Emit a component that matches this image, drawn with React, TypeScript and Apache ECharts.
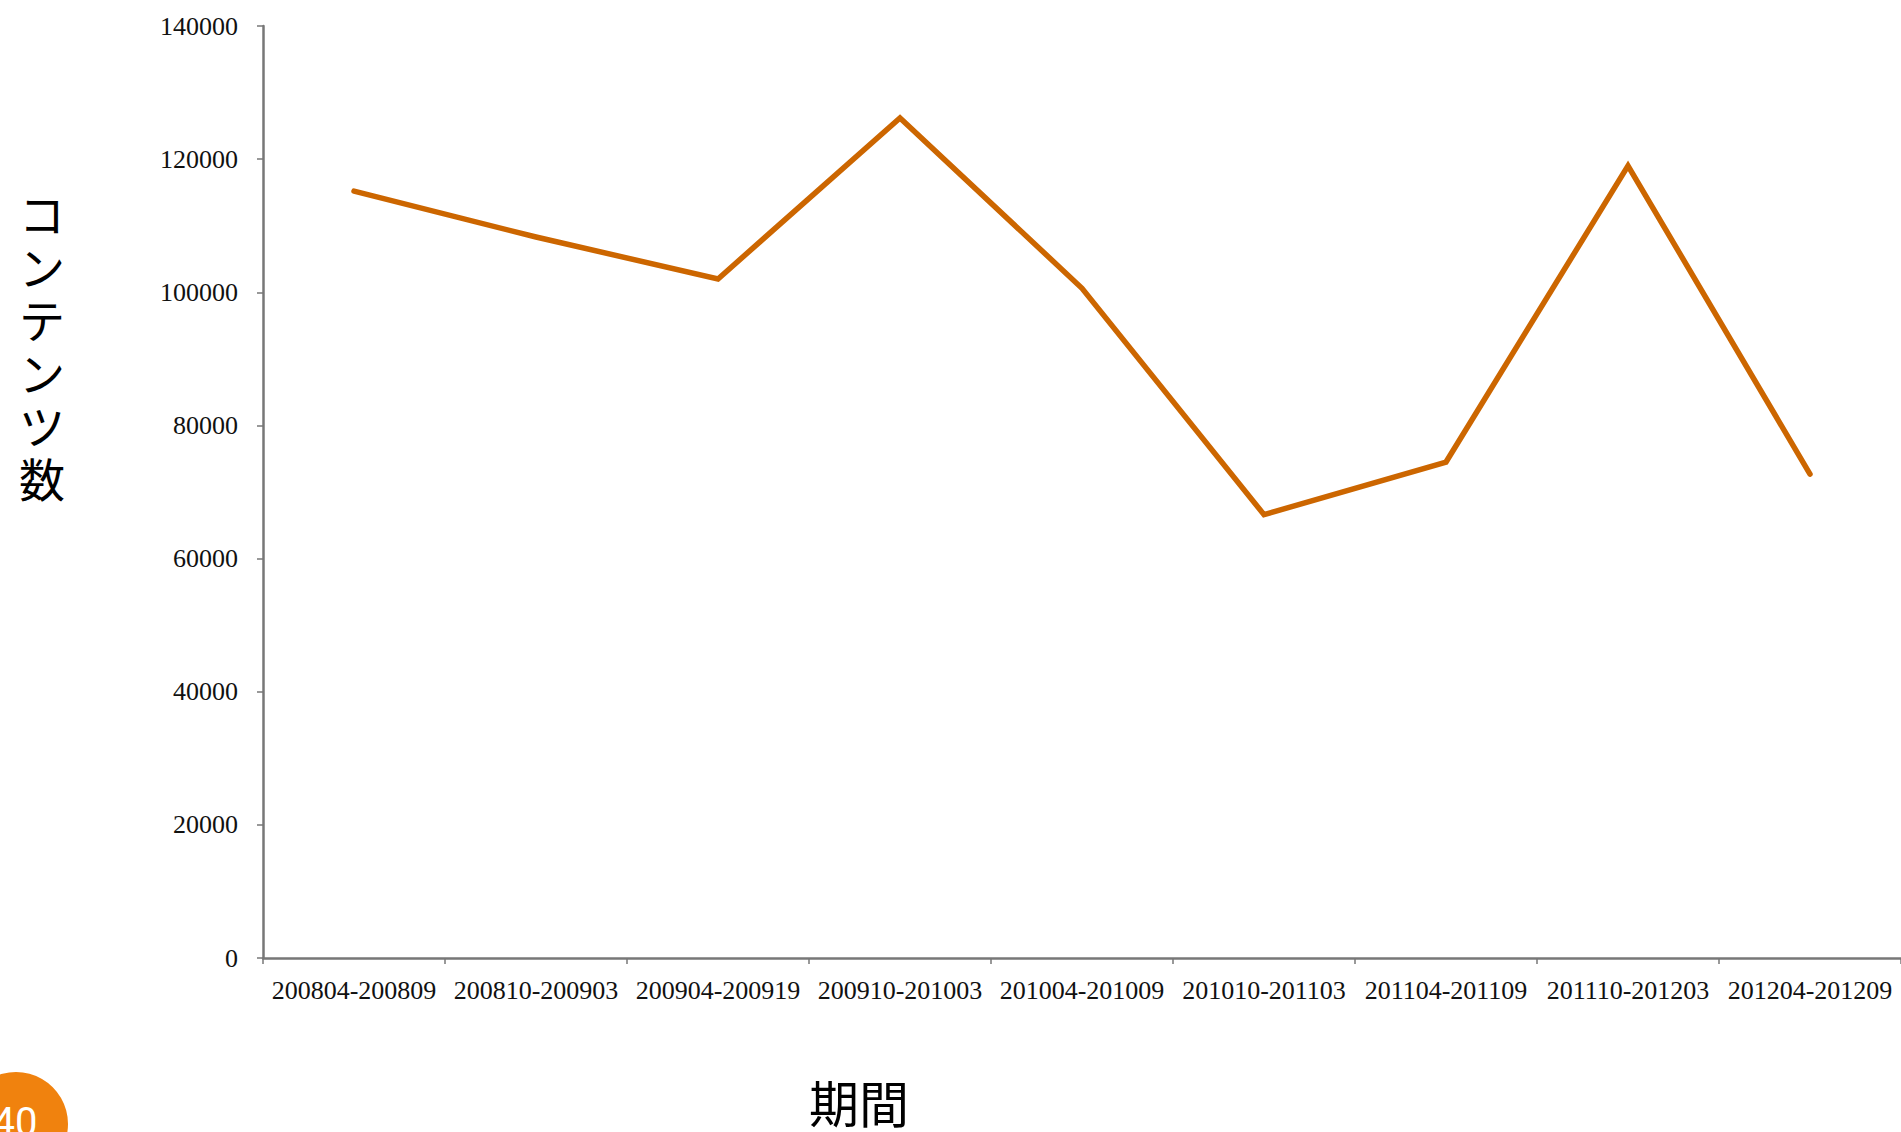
import React, { useEffect, useRef } from "react";
import * as echarts from "echarts";

const categories = [
  "200804-200809",
  "200810-200903",
  "200904-200919",
  "200910-201003",
  "201004-201009",
  "201010-201103",
  "201104-201109",
  "201110-201203",
  "201204-201209",
];
const contentCounts = [115200, 108300, 102000, 126200, 100600, 66600, 74500, 119000, 72700];
const yTicks = { min: 0, max: 140000, interval: 20000 };
const yAxisName = "コンテンツ数";
const xAxisName = "期間";
const pageNumber = "40";

export default function App() {
  const ref = useRef<HTMLDivElement>(null);
  useEffect(() => {
    if (!ref.current) return;
    const chart = echarts.init(ref.current, null, { renderer: "svg" });
    const axisGrey = "#777777";
    const yNameChars = yAxisName.split("").map((ch, i) => ({
      type: "text",
      x: 42,
      y: 189 + i * 53,
      style: {
        text: ch,
        fontFamily: "Noto Sans CJK JP",
        fontSize: 46,
        fill: "#000000",
        align: "center",
        verticalAlign: "top",
      },
    }));
    chart.setOption({
      animation: false,
      backgroundColor: "#ffffff",
      grid: { left: 263, right: -3, top: 26, bottom: 174, containLabel: false },
      xAxis: {
        type: "category",
        data: categories,
        boundaryGap: true,
        axisLine: { show: true, lineStyle: { color: axisGrey, width: 2.5 } },
        axisTick: { show: true, alignWithLabel: false, length: 6, lineStyle: { color: axisGrey, width: 1.5 } },
        axisLabel: {
          interval: 0,
          fontFamily: "Liberation Serif",
          fontSize: 26,
          color: "#111111",
          margin: 19,
        },
        splitLine: { show: false },
      },
      yAxis: {
        type: "value",
        min: yTicks.min,
        max: yTicks.max,
        interval: yTicks.interval,
        axisLine: { show: true, lineStyle: { color: axisGrey, width: 2.5 } },
        axisTick: { show: true, length: 6, lineStyle: { color: axisGrey, width: 1.5 } },
        axisLabel: {
          fontFamily: "Liberation Serif",
          fontSize: 26,
          color: "#111111",
          margin: 25,
          formatter: (v: number) => String(v),
        },
        splitLine: { show: false },
      },
      series: [
        {
          type: "line",
          data: contentCounts,
          showSymbol: false,
          symbol: "none",
          lineStyle: { color: "#CC6600", width: 5.5, cap: "round", join: "miter" },
          itemStyle: { color: "#CC6600" },
        },
      ],
      graphic: [
        ...yNameChars,
        {
          type: "text",
          x: 859,
          y: 1076,
          style: {
            text: xAxisName,
            fontFamily: "Noto Sans CJK JP",
            fontSize: 50,
            fill: "#000000",
            align: "center",
            verticalAlign: "top",
          },
        },
        {
          type: "circle",
          shape: { cx: 16, cy: 1124, r: 52 },
          style: { fill: "#F0820E" },
        },
        {
          type: "text",
          x: 15,
          y: 1102,
          style: {
            text: pageNumber,
            fontFamily: "Roboto",
            fontSize: 40,
            fill: "#ffffff",
            align: "center",
            verticalAlign: "top",
          },
        },
      ],
    });
    return () => chart.dispose();
  }, []);
  return (
    <div
      ref={ref}
      style={{ position: "absolute", left: 0, top: 0, width: 1901, height: 1132 }}
    />
  );
}
